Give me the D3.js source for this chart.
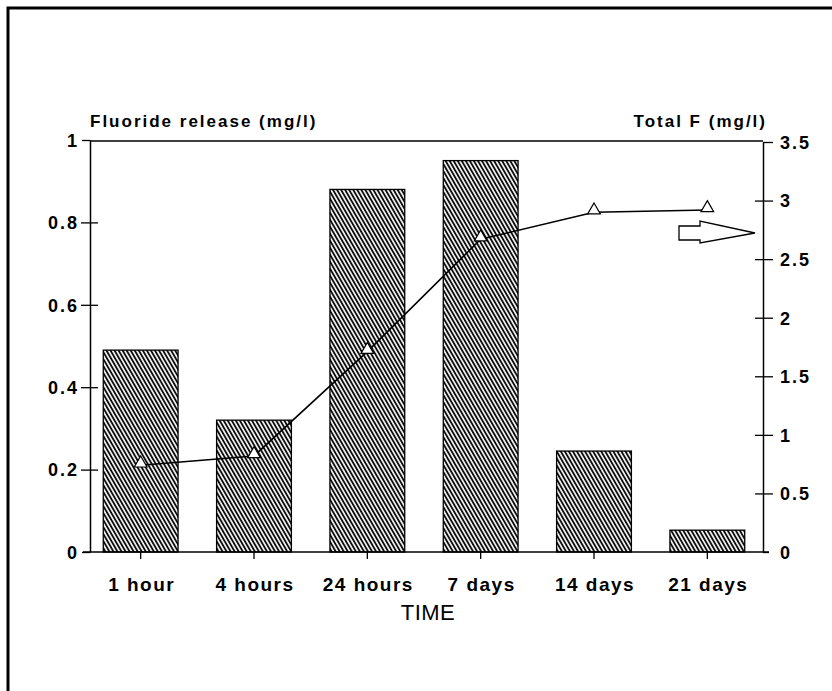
<!DOCTYPE html>
<html lang="en">
<head>
    <meta charset="UTF-8">
    <title>Fluoride release</title>
    <script src="https://d3js.org/d3.v7.min.js"></script>
    <style>
        body {
            margin: 0;
            background: #fff;
            font-family: "Liberation Sans", Arial, sans-serif;
        }
        .tick-label { font-size: 18px; font-weight: bold; letter-spacing: 2px; }
        .cat-label { font-size: 19px; font-weight: bold; letter-spacing: 1.5px; }
        .axis-title { font-size: 17px; font-weight: bold; letter-spacing: 2px; }
    </style>
</head>
<body>
    <div id="chart"></div>

    <script>
        // data
        const times = ["1 hour", "4 hours", "24 hours", "7 days", "14 days", "21 days"];
        const fluorideRelease = [0.49, 0.32, 0.88, 0.95, 0.245, 0.053];
        const totalF = [0.74, 0.82, 1.71, 2.67, 2.9, 2.92];
        const leftTicks = [0, 0.2, 0.4, 0.6, 0.8, 1];
        const rightTicks = [0, 0.5, 1, 1.5, 2, 2.5, 3, 3.5];

        const width = 832, height = 691;
        const plotLeft = 90, plotRight = 763, plotTop = 140, plotBottom = 552;

        const svg = d3.select("#chart").append("svg")
            .attr("width", width)
            .attr("height", height);

        // hatch for the bars
        const pattern = svg.append("defs").append("pattern")
            .attr("id", "hatch")
            .attr("patternUnits", "userSpaceOnUse")
            .attr("width", 3.5)
            .attr("height", 10)
            .attr("patternTransform", "rotate(-30)");
        pattern.append("line")
            .attr("x1", 1).attr("y1", -2)
            .attr("x2", 1).attr("y2", 12)
            .attr("stroke", "#000")
            .attr("stroke-width", 1.8);

        // page frame (top and left edges only)
        svg.append("path")
            .attr("d", "M8,691 V8 H832")
            .attr("fill", "none")
            .attr("stroke", "#000")
            .attr("stroke-width", 3);

        const x = d3.scaleBand()
            .domain(times)
            .range([84, 764])
            .paddingInner(0.34)
            .paddingOuter(0.17);
        const xc = d => x(d) + x.bandwidth() / 2;

        const yLeft = d3.scaleLinear().domain([0, 1]).range([plotBottom, plotTop]);
        const yRight = d3.scaleLinear().domain([0, 3.5]).range([plotBottom, plotTop + 2]);

        // bars
        svg.selectAll("rect.bar")
            .data(times)
            .enter().append("rect")
            .attr("class", "bar")
            .attr("x", d => x(d))
            .attr("y", (d, i) => yLeft(fluorideRelease[i]))
            .attr("width", x.bandwidth())
            .attr("height", (d, i) => plotBottom - yLeft(fluorideRelease[i]))
            .attr("fill", "url(#hatch)")
            .attr("stroke", "#000")
            .attr("stroke-width", 1.3);

        // left axis
        const leftAxis = d3.axisLeft(yLeft)
            .tickValues(leftTicks)
            .tickSize(0)
            .tickFormat(d3.format("~g"));
        const gl = svg.append("g")
            .attr("transform", `translate(${plotLeft},0)`)
            .call(leftAxis);
        gl.select(".domain").attr("stroke", "#000").attr("stroke-width", 1.5);
        gl.selectAll(".tick text")
            .attr("class", "tick-label")
            .attr("x", -11)
            .attr("dy", "0.35em")
            .attr("fill", "#000");
        gl.selectAll(".tick").append("line")
            .attr("x1", d => d === 1 || d === 0 ? -8 : -9)
            .attr("x2", d => d === 1 || d === 0 ? 0 : 8)
            .attr("stroke", "#000")
            .attr("stroke-width", 1.3);

        // right axis
        const rightAxis = d3.axisRight(yRight)
            .tickValues(rightTicks)
            .tickSize(0)
            .tickFormat(d3.format("~g"));
        const gr = svg.append("g")
            .attr("transform", `translate(${plotRight},0)`)
            .call(rightAxis);
        gr.select(".domain").attr("stroke", "#000").attr("stroke-width", 1.5);
        gr.selectAll(".tick text")
            .attr("class", "tick-label")
            .attr("x", 17)
            .attr("dy", "0.35em")
            .attr("fill", "#000");
        gr.selectAll(".tick").append("line")
            .attr("x1", d => d === 3.5 || d === 0 ? 0 : -8)
            .attr("x2", d => d === 0 ? 6 : 10)
            .attr("stroke", "#000")
            .attr("stroke-width", 1.3);

        // top frame line and baseline
        svg.append("line")
            .attr("x1", plotLeft).attr("x2", plotRight)
            .attr("y1", plotTop + 1).attr("y2", plotTop + 1)
            .attr("stroke", "#000").attr("stroke-width", 1.5);
        svg.append("line")
            .attr("x1", 83).attr("x2", plotRight + 6)
            .attr("y1", plotBottom).attr("y2", plotBottom)
            .attr("stroke", "#000").attr("stroke-width", 1.6);

        // x ticks and labels
        const gx = svg.append("g");
        gx.selectAll("line")
            .data(times)
            .enter().append("line")
            .attr("x1", d => xc(d)).attr("x2", d => xc(d))
            .attr("y1", plotBottom).attr("y2", plotBottom + 7)
            .attr("stroke", "#000").attr("stroke-width", 1.3);
        gx.selectAll("text")
            .data(times)
            .enter().append("text")
            .attr("class", "cat-label")
            .attr("x", d => xc(d) + 1)
            .attr("y", 591)
            .attr("text-anchor", "middle")
            .text(d => d);

        svg.append("text")
            .attr("x", 428)
            .attr("y", 620)
            .attr("text-anchor", "middle")
            .style("font-size", "22px")
            .style("letter-spacing", "0.5px")
            .text("TIME");

        // axis titles
        svg.append("text")
            .attr("class", "axis-title")
            .attr("x", 90)
            .attr("y", 127)
            .text("Fluoride release (mg/l)");
        svg.append("text")
            .attr("class", "axis-title")
            .attr("x", 767)
            .attr("y", 127)
            .attr("text-anchor", "end")
            .text("Total F (mg/l)");

        // total F line
        const line = d3.line()
            .x((d, i) => xc(times[i]))
            .y(d => yRight(d));
        svg.append("path")
            .datum(totalF)
            .attr("d", line)
            .attr("fill", "none")
            .attr("stroke", "#000")
            .attr("stroke-width", 1.6);

        const tri = d3.symbol().type(d3.symbolTriangle).size(70);
        svg.selectAll("path.marker")
            .data(totalF)
            .enter().append("path")
            .attr("class", "marker")
            .attr("transform", (d, i) => `translate(${xc(times[i])},${yRight(d) - 2})`)
            .attr("d", tri)
            .attr("fill", "#fff")
            .attr("stroke", "#000")
            .attr("stroke-width", 1.2);

        // hollow arrow pointing to the right axis
        svg.append("path")
            .attr("d", "M679,226 H700 V221 L755,233 L700,243 V240 H679 Z")
            .attr("fill", "#fff")
            .attr("stroke", "#000")
            .attr("stroke-width", 1.3);
    </script>
</body>
</html>
